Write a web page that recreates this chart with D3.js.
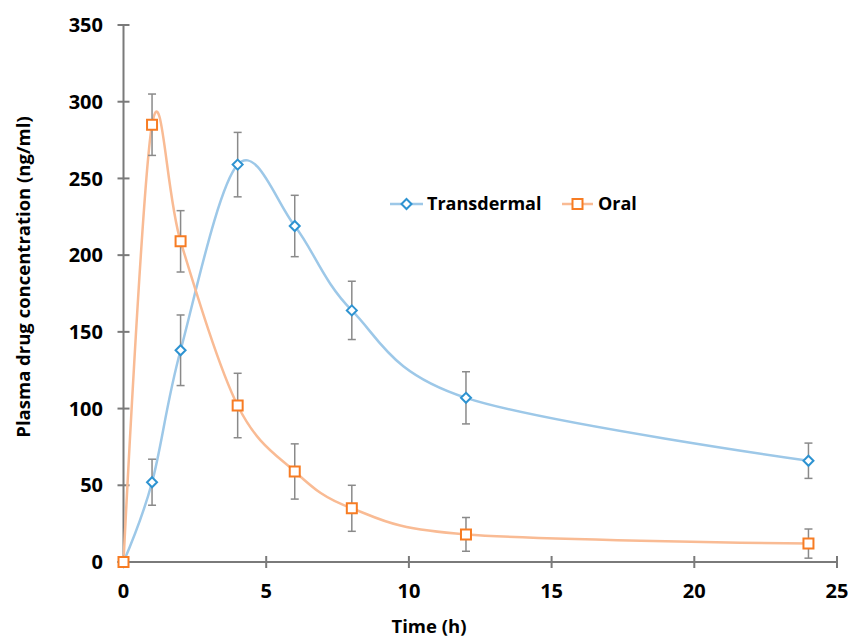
<!DOCTYPE html>
<html>
<head>
<meta charset="utf-8">
<script src="https://cdn.jsdelivr.net/npm/d3@7"></script>
<style>
  body { margin: 0; background: #fff; }
  svg text { font-family: "Open Sans", "Liberation Sans", sans-serif; font-weight: bold; fill: #000; }
</style>
</head>
<body>
<svg id="chart" width="848" height="639"></svg>
<script>
"use strict";

// time points (h)
const times = [0, 1, 2, 4, 6, 8, 12, 24];

// mean plasma concentration (ng/ml)
const transdermal = [0, 52, 138, 259, 219, 164, 107, 66];
const oral = [0, 285, 209, 102, 59, 35, 18, 12];

// error (sd) for each point
const transdermalErr = [0, 15, 23, 21, 20, 19, 17, 11.5];
const oralErr = [0, 20, 20, 21, 18, 15, 11, 9.5];

const xTicks = [0, 5, 10, 15, 20, 25];
const yTicks = [0, 50, 100, 150, 200, 250, 300, 350];

(function () {
  let svg = d3.select('#chart');

  let x = d3.scaleLinear().domain([0, 25]).range([123.5, 837]);
  let y = d3.scaleLinear().domain([0, 350]).range([562, 25]);

  let axisColor = '#7a7a7a';

  // y axis
  svg.append('line')
    .attr('x1', x(0)).attr('x2', x(0))
    .attr('y1', y(0)).attr('y2', y(350))
    .style('stroke', axisColor).style('stroke-width', 2);

  svg.selectAll('.ytick').data(yTicks).enter().append('line')
    .attr('class', 'ytick')
    .attr('x1', x(0) - 6).attr('x2', x(0) + 6)
    .attr('y1', d => y(d)).attr('y2', d => y(d))
    .style('stroke', axisColor).style('stroke-width', 2);

  svg.selectAll('.ylabel').data(yTicks).enter().append('text')
    .attr('class', 'ylabel')
    .attr('x', 103)
    .attr('y', d => y(d))
    .attr('dy', '0.36em')
    .attr('text-anchor', 'end')
    .style('font-size', '20px')
    .text(d => d);

  // x axis
  svg.append('line')
    .attr('x1', x(0)).attr('x2', x(25))
    .attr('y1', y(0)).attr('y2', y(0))
    .style('stroke', axisColor).style('stroke-width', 2);

  svg.selectAll('.xtick').data(xTicks).enter().append('line')
    .attr('class', 'xtick')
    .attr('x1', d => x(d)).attr('x2', d => x(d))
    .attr('y1', y(0) - 6).attr('y2', y(0) + 6)
    .style('stroke', axisColor).style('stroke-width', 2);

  svg.selectAll('.xlabel').data(xTicks).enter().append('text')
    .attr('class', 'xlabel')
    .attr('x', d => x(d))
    .attr('y', 598)
    .attr('text-anchor', 'middle')
    .style('font-size', '20px')
    .text(d => d);

  // axis titles
  svg.append('text')
    .attr('x', 429).attr('y', 633)
    .attr('text-anchor', 'middle')
    .style('font-size', '18.5px')
    .text('Time (h)');

  svg.append('text')
    .attr('transform', 'translate(30,277) rotate(-90)')
    .attr('text-anchor', 'middle')
    .style('font-size', '18.5px')
    .text('Plasma drug concentration (ng/ml)');

  let series = [
    { name: 'Transdermal', vals: transdermal, err: transdermalErr, line: '#9dc8e8', mark: '#2e93d1', shape: 'diamond' },
    { name: 'Oral', vals: oral, err: oralErr, line: '#f9bb94', mark: '#f77c23', shape: 'square' }
  ];

  let curve = d3.line()
    .x(d => x(d[0]))
    .y(d => y(d[1]))
    .curve(d3.curveCardinal.tension(0));

  series.forEach(function (s) {
    let pts = times.map((t, i) => [t, s.vals[i], s.err[i]]);

    svg.append('path')
      .datum(pts)
      .attr('d', curve)
      .style('fill', 'none')
      .style('stroke', s.line)
      .style('stroke-width', 2.5);

    // error bars
    let eb = svg.append('g').selectAll('g').data(pts.filter(p => p[2] > 0)).enter().append('g')
      .style('stroke', '#8a8a8a').style('stroke-width', 1.5);
    eb.append('line')
      .attr('x1', d => x(d[0])).attr('x2', d => x(d[0]))
      .attr('y1', d => y(d[1] + d[2])).attr('y2', d => y(d[1] - d[2]));
    eb.append('line')
      .attr('x1', d => x(d[0]) - 4).attr('x2', d => x(d[0]) + 4)
      .attr('y1', d => y(d[1] + d[2])).attr('y2', d => y(d[1] + d[2]));
    eb.append('line')
      .attr('x1', d => x(d[0]) - 4).attr('x2', d => x(d[0]) + 4)
      .attr('y1', d => y(d[1] - d[2])).attr('y2', d => y(d[1] - d[2]));
  });

  let diamond = 'M0,-5L5,0L0,5L-5,0Z';
  let square = 'M-5,-5H5V5H-5Z';

  series.forEach(function (s) {
    let pts = times.map((t, i) => [t, s.vals[i]]);
    svg.append('g').selectAll('path').data(pts).enter().append('path')
      .attr('d', s.shape === 'diamond' ? diamond : square)
      .attr('transform', d => 'translate(' + x(d[0]) + ',' + y(d[1]) + ')')
      .style('fill', '#fff')
      .style('stroke', s.mark)
      .style('stroke-width', 2);
  });

  // legend
  let legendItems = [
    { s: series[0], x0: 390, x1: 423, tx: 427 },
    { s: series[1], x0: 562, x1: 593, tx: 598 }
  ];
  let ly = 204;
  legendItems.forEach(function (l) {
    svg.append('line')
      .attr('x1', l.x0).attr('x2', l.x1)
      .attr('y1', ly).attr('y2', ly)
      .style('stroke', l.s.line).style('stroke-width', 2.5);
    svg.append('path')
      .attr('d', l.s.shape === 'diamond' ? diamond : square)
      .attr('transform', 'translate(' + ((l.x0 + l.x1) / 2) + ',' + ly + ')')
      .style('fill', '#fff')
      .style('stroke', l.s.mark)
      .style('stroke-width', 2);
    svg.append('text')
      .attr('x', l.tx).attr('y', ly)
      .attr('dy', '0.36em')
      .style('font-size', '18px')
      .text(l.s.name);
  });
})();
</script>
</body>
</html>
